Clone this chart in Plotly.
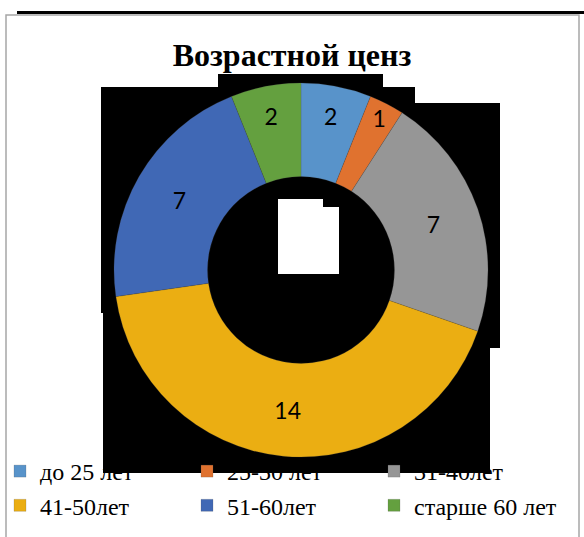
import plotly.graph_objects as go

labels = ["до 25 лет", "25-30 лет", "31-40лет", "41-50лет", "51-60лет", "старше 60 лет"]
values = [2, 1, 7, 14, 7, 2]
colors = ["#5893CA", "#E0722F", "#969696", "#EBAE12", "#4068B5", "#64A03F"]

W, H = 584, 537
SERIF = "Liberation Serif"

def px(x0, y0, x1, y1, color, line=None):
    d = dict(type="rect", xref="paper", yref="paper",
             x0=x0 / W, x1=x1 / W, y0=1 - y0 / H, y1=1 - y1 / H,
             fillcolor=color, line=dict(width=0), layer="below")
    if line:
        d["line"] = line
        d["fillcolor"] = "rgba(0,0,0,0)"
    return d

fig = go.Figure(go.Pie(
    labels=labels, values=values,
    hole=0.5, sort=False, direction="clockwise", rotation=0,
    marker=dict(colors=colors, line=dict(color="rgba(80,80,80,0.4)", width=0.5)),
    textinfo="value", textposition="inside", insidetextorientation="horizontal",
    textfont=dict(family="Lato", size=23, color="#000000"),
    domain=dict(x=[114 / W, 488 / W], y=[1 - 457 / H, 1 - 83 / H]),
))

shapes = [
    # dark scan artefacts behind the donut
    px(218, 74, 383, 88, "#000000"),
    px(101, 87, 415, 104, "#000000"),
    px(101, 103, 500, 313, "#000000"),
    px(103, 312, 500, 348, "#000000"),
    px(103, 347, 490, 473, "#000000"),
    # white patch in the hole
    px(278, 199, 323, 274, "#FFFFFF"),
    px(322, 207, 339, 274, "#FFFFFF"),
    # frame
    px(6, 15, 579, 545, None, line=dict(color="#A6A6A6", width=1.5)),
    px(17, 11, 600, 14, "#000000"),
]

fig.update_layout(
    width=W, height=H,
    margin=dict(l=0, r=0, t=0, b=0),
    paper_bgcolor="#FFFFFF",
    title=dict(text="<b>Возрастной ценз</b>", x=0.5, xanchor="center",
               y=1 - 55 / H, yanchor="middle",
               font=dict(family=SERIF, size=32, color="#000000")),
    shapes=shapes,
    showlegend=True,
    legend=dict(orientation="h", x=0, xanchor="left", y=1 - 449 / H, yanchor="top",
                entrywidth=142, entrywidthmode="pixels", traceorder="normal",
                font=dict(family=SERIF, size=24, color="#000000"),
                bgcolor="rgba(0,0,0,0)"),
)

fig.write_html("out.html", config={"displayModeBar": False},
               post_script="document.body.style.margin='0';document.body.style.overflow='hidden';")
